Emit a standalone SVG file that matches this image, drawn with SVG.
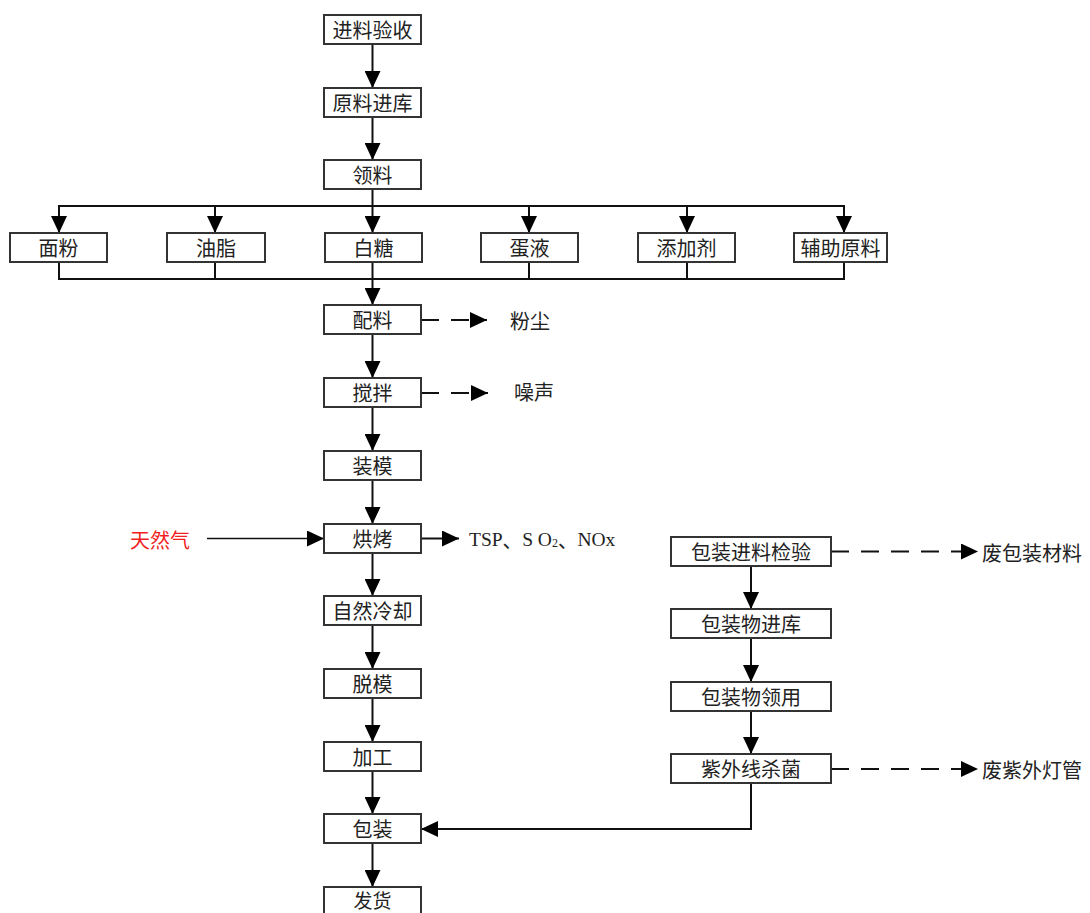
<svg xmlns="http://www.w3.org/2000/svg" width="1090" height="913" viewBox="0 0 1090 913">
<style>
.box{fill:#fff;stroke:#333;stroke-width:2}
.t{font-family:"Noto Sans CJK SC","Liberation Sans",sans-serif;font-size:20px;fill:#222;text-anchor:middle;dominant-baseline:central}
.l{font-family:"Noto Sans CJK SC","Liberation Sans",sans-serif;font-size:20px;fill:#222;dominant-baseline:central}
.c{fill:none;stroke:#111;stroke-width:2}
.a{marker-end:url(#ah)}
.d{stroke-dasharray:18 12}
</style>
<defs>
<marker id="ah" markerWidth="17" markerHeight="16" refX="17" refY="8" orient="auto" markerUnits="userSpaceOnUse" viewBox="0 0 17 16"><path d="M0,0 L17,8 L0,16 Z" fill="#000"/></marker>
</defs>
<rect width="1090" height="913" fill="#fff"/>
<g id="connectors">
<path class="c a" d="M372.5,44 V88"/>
<path class="c a" d="M372.5,117 V160"/>
<path class="c" d="M372.5,189 V206 M59,233 V206 H844 V216"/>
<path class="c a" d="M59,206 V233"/>
<path class="c a" d="M215,206 V233"/>
<path class="c a" d="M372.5,206 V233"/>
<path class="c a" d="M529,206 V233"/>
<path class="c a" d="M687,206 V233"/>
<path class="c a" d="M844,206 V233"/>
<path class="c" d="M59,262 V279 H844 V262 M215,262 V279 M372.5,262 V279 M529,262 V279 M687,262 V279"/>
<path class="c a" d="M372.5,279 V305"/>
<path class="c a" d="M372.5,334 V378"/>
<path class="c a d" d="M421,320 H487"/>
<path class="c a" d="M372.5,407 V451"/>
<path class="c a d" d="M421,393 H488"/>
<path class="c a" d="M372.5,480 V524"/>
<path class="c a" style="stroke-width:1.6" d="M207,538.5 H324"/>
<path class="c a" d="M421,538.5 H459"/>
<path class="c a" d="M372.5,553 V596"/>
<path class="c a" d="M372.5,625 V669"/>
<path class="c a" d="M372.5,698 V742"/>
<path class="c a" d="M372.5,771 V814"/>
<path class="c a" d="M372.5,843 V887"/>
<path class="c a" d="M751,566 V609"/>
<path class="c a" d="M751,638 V682"/>
<path class="c a" d="M751,711 V754"/>
<path class="c a" d="M751,783 V829 H421"/>
<path class="c a d" d="M831,551.5 H978"/>
<path class="c a d" d="M831,769 H978"/>
</g>
<g id="n1"><rect class="box" x="324" y="15" width="97" height="29"/><text class="t" x="372.5" y="29.5">进料验收</text></g>
<g id="n2"><rect class="box" x="324" y="88" width="97" height="29"/><text class="t" x="372.5" y="102.5">原料进库</text></g>
<g id="n3"><rect class="box" x="324" y="160" width="97" height="29"/><text class="t" x="372.5" y="174.5">领料</text></g>
<g id="b1"><rect class="box" x="10" y="233" width="97" height="29"/><text class="t" x="58.5" y="247.5">面粉</text></g>
<g id="b2"><rect class="box" x="167" y="233" width="98" height="29"/><text class="t" x="216" y="247.5">油脂</text></g>
<g id="b3"><rect class="box" x="325" y="233" width="97" height="29"/><text class="t" x="373.5" y="247.5">白糖</text></g>
<g id="b4"><rect class="box" x="481" y="233" width="97" height="29"/><text class="t" x="529.5" y="247.5">蛋液</text></g>
<g id="b5"><rect class="box" x="638" y="233" width="97" height="29"/><text class="t" x="686.5" y="247.5">添加剂</text></g>
<g id="b6"><rect class="box" x="794" y="233" width="93" height="29"/><text class="t" x="840.5" y="247.5">辅助原料</text></g>
<g id="n4"><rect class="box" x="324" y="305" width="97" height="29"/><text class="t" x="372.5" y="319.5">配料</text></g>
<g id="n5"><rect class="box" x="324" y="378" width="97" height="29"/><text class="t" x="372.5" y="392.5">搅拌</text></g>
<g id="n6"><rect class="box" x="324" y="451" width="97" height="29"/><text class="t" x="372.5" y="465.5">装模</text></g>
<g id="n7"><rect class="box" x="324" y="524" width="97" height="29"/><text class="t" x="372.5" y="538.5">烘烤</text></g>
<g id="n8"><rect class="box" x="324" y="596" width="97" height="29"/><text class="t" x="372.5" y="610.5">自然冷却</text></g>
<g id="n9"><rect class="box" x="324" y="669" width="97" height="29"/><text class="t" x="372.5" y="683.5">脱模</text></g>
<g id="n10"><rect class="box" x="324" y="742" width="97" height="29"/><text class="t" x="372.5" y="756.5">加工</text></g>
<g id="n11"><rect class="box" x="324" y="814" width="97" height="29"/><text class="t" x="372.5" y="828.5">包装</text></g>
<g id="n12"><rect class="box" x="324" y="887" width="97" height="29"/><text class="t" x="372.5" y="899.5" style="font-size:19px">发货</text></g>
<g id="r1"><rect class="box" x="671" y="537" width="160" height="29"/><text class="t" x="751" y="551.5">包装进料检验</text></g>
<g id="r2"><rect class="box" x="671" y="609" width="160" height="29"/><text class="t" x="751" y="623.5">包装物进库</text></g>
<g id="r3"><rect class="box" x="671" y="682" width="160" height="29"/><text class="t" x="751" y="696.5">包装物领用</text></g>
<g id="r4"><rect class="box" x="671" y="754" width="160" height="29"/><text class="t" x="751" y="768.5">紫外线杀菌</text></g>
<g id="labels">
<text class="l" x="510" y="320">粉尘</text>
<text class="l" x="514" y="391">噪声</text>
<text class="l" x="130" y="539" style="fill:#f01e1e">天然气</text>
<text x="469" y="539" style="font-family:'Liberation Serif',serif;font-size:19.5px;fill:#222;dominant-baseline:central">TSP<tspan font-family="Noto Sans CJK SC,sans-serif">、</tspan>S O<tspan font-size="12" dy="4">2</tspan><tspan dy="-4" font-family="Noto Sans CJK SC,sans-serif">、</tspan>NOx</text>
<text class="l" x="982" y="552">废包装材料</text>
<text class="l" x="982" y="769">废紫外灯管</text>
</g>
</svg>
